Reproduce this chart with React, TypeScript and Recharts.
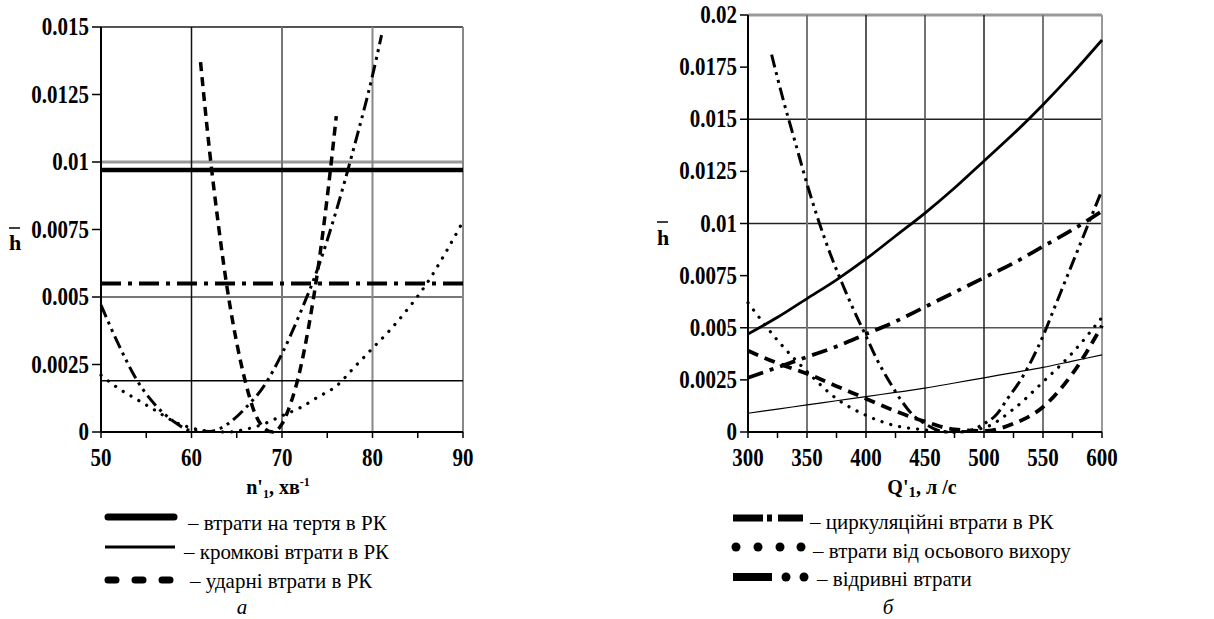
import React from 'react';
import { LineChart, Line, XAxis, YAxis, ReferenceLine } from 'recharts';

// ---- chart а : losses vs n'1 ----
const nEnds = [50, 90];
const frictionA = [0.0097, 0.0097];
const edgeA = [0.0019, 0.0019];
const circulationA = [0.0055, 0.0055];
const nShock = [61, 62, 63, 64, 65, 66, 67, 68, 69, 70, 71, 72, 73, 74, 75, 76];
const shockA = [0.0137, 0.0104, 0.0076, 0.0052, 0.0033, 0.0018, 0.0007, 0.00015, 0.0, 0.0003, 0.0011, 0.0023, 0.004, 0.0061, 0.0087, 0.0117];
const nVortex = [50, 52, 54, 56, 58, 60, 62, 64, 66, 68, 70, 72, 74, 76, 78, 80, 82, 84, 86, 88, 90];
const vortexA = [0.0021, 0.0016, 0.0012, 0.0008, 0.0004, 0.00015, 0.00003, 0.0, 0.0001, 0.0003, 0.0006, 0.0009, 0.0013, 0.0017, 0.0024, 0.0031, 0.0038, 0.0046, 0.0055, 0.0066, 0.0078];
const nSeparation = [50, 52, 54, 56, 58, 60, 62, 64, 66, 68, 70, 72, 74, 76, 78, 80, 81];
const separationA = [0.0047, 0.0032, 0.0019, 0.001, 0.0004, 0.00005, 0.00002, 0.0003, 0.0009, 0.0017, 0.0029, 0.0044, 0.0061, 0.0082, 0.0106, 0.0132, 0.0147];
const nTicks = [50, 55, 60, 65, 70, 75, 80, 85, 90];
const hTicksA = [0, 0.0025, 0.005, 0.0075, 0.01, 0.0125, 0.015];

// ---- chart б : losses vs Q'1 ----
const qGrid = [300, 325, 350, 375, 400, 425, 450, 475, 500, 525, 550, 575, 600];
const frictionB = [0.0047, 0.0055, 0.0064, 0.0073, 0.0083, 0.0094, 0.0105, 0.0117, 0.013, 0.0143, 0.0157, 0.0172, 0.0188];
const edgeB = [0.0009, 0.0011, 0.0013, 0.0015, 0.0017, 0.0019, 0.0021, 0.00235, 0.0026, 0.00285, 0.0031, 0.0034, 0.0037];
const circulationB = [0.0026, 0.0031, 0.0036, 0.0041, 0.0047, 0.0053, 0.006, 0.0067, 0.0074, 0.0081, 0.0089, 0.0097, 0.0106];
const shockB = [0.0039, 0.0033, 0.0028, 0.0022, 0.0016, 0.001, 0.0005, 0.00012, 0.00005, 0.0004, 0.0012, 0.0028, 0.0051];
const vortexB = [0.0062, 0.0044, 0.0029, 0.0016, 0.0008, 0.0003, 0.0001, 0.0, 0.0002, 0.0011, 0.0024, 0.0038, 0.0055];
const qSeparation = [320, 330, 340, 350, 360, 370, 380, 390, 400, 410, 420, 430, 440, 450, 460, 470, 480, 490, 500, 510, 520, 530, 540, 550, 560, 570, 580, 590, 600];
const separationB = [0.0181, 0.0159, 0.0139, 0.0119, 0.0101, 0.0085, 0.0071, 0.0058, 0.0046, 0.0034, 0.0024, 0.0015, 0.0008, 0.0004, 0.0001, 0.0, 0.0, 0.0001, 0.0004, 0.0008, 0.0016, 0.0024, 0.0034, 0.0046, 0.006, 0.0074, 0.0088, 0.0102, 0.0116];
const qTicks = [300, 325, 350, 375, 400, 425, 450, 475, 500, 525, 550, 575, 600];
const hTicksB = [0, 0.0025, 0.005, 0.0075, 0.01, 0.0125, 0.015, 0.0175, 0.02];

const legendA = ['– втрати на тертя в РК', '– кромкові втрати в РК', '– ударні втрати в РК'];
const legendB = ['– циркуляційні втрати в РК', '– втрати від осьового вихору', '– відривні втрати'];

const pts = (xs: number[], ys: number[]) => xs.map((x, i) => ({ x, y: ys[i] }));

const SERIF = '"Liberation Serif", "DejaVu Serif", serif';
const tickFont = { fontFamily: SERIF, fontSize: 21, fontWeight: 700, fill: '#000' };
const STRETCH = 1.18;

const xTick = (step: number) => (p: any) =>
  p.payload.value % step === 0 ? (
    <g transform={`translate(${p.x},${p.y + 24}) scale(1,${STRETCH})`}>
      <text x={0} y={0} textAnchor="middle" style={tickFont}>{p.payload.value}</text>
    </g>
  ) : <g />;

const yTick = (p: any) => (
  <g transform={`translate(${p.x},${p.y + 8}) scale(1,${STRETCH})`}>
    <text x={0} y={0} textAnchor="end" style={tickFont}>{p.payload.value}</text>
  </g>
);

const common = { dot: false, isAnimationActive: false, stroke: '#000', dataKey: 'y' } as const;
const axisLine = { stroke: '#000', strokeWidth: 2 };
const tickLine = { stroke: '#000', strokeWidth: 1.5 };

const ChartA = () => (
  <LineChart width={490} height={470} margin={{ top: 27, right: 27, bottom: 8, left: 1 }}>
    <XAxis type="number" dataKey="x" domain={[50, 90]} ticks={nTicks} height={30}
      axisLine={axisLine} tickLine={tickLine} tickSize={6} tickMargin={4} tick={xTick(10)} />
    <YAxis type="number" domain={[0, 0.015]} ticks={hTicksA} width={100}
      axisLine={axisLine} tickLine={tickLine} tickSize={9} tickMargin={3} tick={yTick} />
    <ReferenceLine y={0.005} stroke="#777" strokeWidth={2} />
    <ReferenceLine y={0.01} stroke="#999" strokeWidth={3} />
    <ReferenceLine y={0.015} stroke="#555" strokeWidth={2} />
    <ReferenceLine x={60} stroke="#111" strokeWidth={1.5} />
    <ReferenceLine x={70} stroke="#777" strokeWidth={2} />
    <ReferenceLine x={80} stroke="#888" strokeWidth={2} />
    <ReferenceLine x={90} stroke="#888" strokeWidth={2} />
    <Line {...common} data={pts(nEnds, frictionA)} type="linear" strokeWidth={4.5} />
    <Line {...common} data={pts(nEnds, edgeA)} type="linear" strokeWidth={1.5} />
    <Line {...common} data={pts(nEnds, circulationA)} type="linear" strokeWidth={4} strokeDasharray="20 7 4 7" />
    <Line {...common} data={pts(nShock, shockA)} type="monotone" strokeWidth={3.5} strokeDasharray="9 6" />
    <Line {...common} data={pts(nVortex, vortexA)} type="monotone" strokeWidth={3.2} strokeLinecap="round" strokeDasharray="0.1 9" />
    <Line {...common} data={pts(nSeparation, separationA)} type="monotone" strokeWidth={3} strokeDasharray="13 5 3 5 3 5" />
  </LineChart>
);

const ChartB = () => (
  <LineChart width={540} height={470} margin={{ top: 15, right: 38, bottom: 8, left: 48 }}>
    <XAxis type="number" dataKey="x" domain={[300, 600]} ticks={qTicks} height={30}
      axisLine={axisLine} tickLine={tickLine} tickSize={6} tickMargin={4} tick={xTick(50)} />
    <YAxis type="number" domain={[0, 0.02]} ticks={hTicksB} width={100}
      axisLine={axisLine} tickLine={tickLine} tickSize={8} tickMargin={3} tick={yTick} />
    <ReferenceLine y={0.005} stroke="#555" strokeWidth={1.5} />
    <ReferenceLine y={0.01} stroke="#222" strokeWidth={1.5} />
    <ReferenceLine y={0.015} stroke="#222" strokeWidth={1.5} />
    <ReferenceLine y={0.02} stroke="#999" strokeWidth={3} />
    <ReferenceLine x={350} stroke="#777" strokeWidth={2} />
    <ReferenceLine x={400} stroke="#222" strokeWidth={1.5} />
    <ReferenceLine x={450} stroke="#444" strokeWidth={1.5} />
    <ReferenceLine x={500} stroke="#222" strokeWidth={1.5} />
    <ReferenceLine x={550} stroke="#777" strokeWidth={2} />
    <ReferenceLine x={600} stroke="#999" strokeWidth={2} />
    <Line {...common} data={pts(qGrid, frictionB)} type="monotone" strokeWidth={2.8} />
    <Line {...common} data={pts(qGrid, edgeB)} type="monotone" strokeWidth={1.2} />
    <Line {...common} data={pts(qGrid, circulationB)} type="monotone" strokeWidth={3.8} strokeDasharray="16 7 4 7" />
    <Line {...common} data={pts(qGrid, shockB)} type="monotone" strokeWidth={3.8} strokeDasharray="11 7" />
    <Line {...common} data={pts(qGrid, vortexB)} type="monotone" strokeWidth={3.2} strokeLinecap="round" strokeDasharray="0.1 9" />
    <Line {...common} data={pts(qSeparation, separationB)} type="monotone" strokeWidth={3} strokeDasharray="13 5 3 5 3 5" />
  </LineChart>
);

const textFont = { fontFamily: SERIF, fontSize: 21, fill: '#000' };
const labelFont = { fontFamily: SERIF, fontSize: 20, fontWeight: 700, fill: '#000' };

const Overlay = () => (
  <svg width={1214} height={619} style={{ position: 'absolute', left: 0, top: 0, pointerEvents: 'none' }}>
    {/* y labels h̄ */}
    <text x={15} y={250} textAnchor="middle" style={{ ...labelFont, fontSize: 22 }}>h</text>
    <line x1={9} x2={20} y1={228} y2={228} stroke="#000" strokeWidth={1.5} />
    <text x={663} y={245} textAnchor="middle" style={{ ...labelFont, fontSize: 22 }}>h</text>
    <line x1={657} x2={668} y1={222} y2={222} stroke="#000" strokeWidth={1.5} />

    {/* x labels */}
    <text x={278} y={494} textAnchor="middle" style={labelFont}>
      n'<tspan fontSize={12} dy={4}>1</tspan><tspan dy={-4}>, хв</tspan><tspan fontSize={12} dy={-8}>-1</tspan>
    </text>
    <text x={922} y={494} textAnchor="middle" style={labelFont}>
      Q'<tspan fontSize={15} dy={3}>1</tspan><tspan dy={-3}>, л /с</tspan>
    </text>

    {/* legend а */}
    <line x1={108} x2={174} y1={517} y2={517} stroke="#000" strokeWidth={7} strokeLinecap="round" />
    <line x1={105} x2={175} y1={547} y2={547} stroke="#000" strokeWidth={3} />
    <line x1={108} x2={182} y1={580} y2={580} stroke="#000" strokeWidth={7} strokeLinecap="round" strokeDasharray="8 19" />
    <text x={188} y={530} style={textFont}>{legendA[0]}</text>
    <text x={184} y={559} style={textFont}>{legendA[1]}</text>
    <text x={190} y={588} style={textFont}>{legendA[2]}</text>
    <text x={242} y={614} textAnchor="middle" style={{ ...textFont, fontStyle: 'italic' }}>а</text>

    {/* legend б */}
    <line x1={733} x2={763} y1={518} y2={518} stroke="#000" strokeWidth={7} />
    <line x1={767} x2={772} y1={518} y2={518} stroke="#000" strokeWidth={7} />
    <line x1={778} x2={803} y1={518} y2={518} stroke="#000" strokeWidth={7} />
    {[736, 758, 780, 801].map((cx) => <circle key={cx} cx={cx} cy={547} r={4.5} fill="#000" />)}
    <line x1={733} x2={772} y1={577} y2={577} stroke="#000" strokeWidth={8} />
    <circle cx={786} cy={577} r={4.5} fill="#000" />
    <circle cx={804} cy={577} r={4.5} fill="#000" />
    <text x={810} y={529} style={textFont}>{legendB[0]}</text>
    <text x={813} y={558} style={textFont}>{legendB[1]}</text>
    <text x={817} y={586} style={textFont}>{legendB[2]}</text>
    <text x={888} y={614} textAnchor="middle" style={{ ...textFont, fontStyle: 'italic' }}>б</text>
  </svg>
);

export default function App() {
  return (
    <div style={{ position: 'absolute', left: 0, top: 0, width: 1214, height: 619, background: '#fff' }}>
      <div style={{ position: 'absolute', left: 0, top: 0 }}><ChartA /></div>
      <div style={{ position: 'absolute', left: 600, top: 0 }}><ChartB /></div>
      <Overlay />
    </div>
  );
}
